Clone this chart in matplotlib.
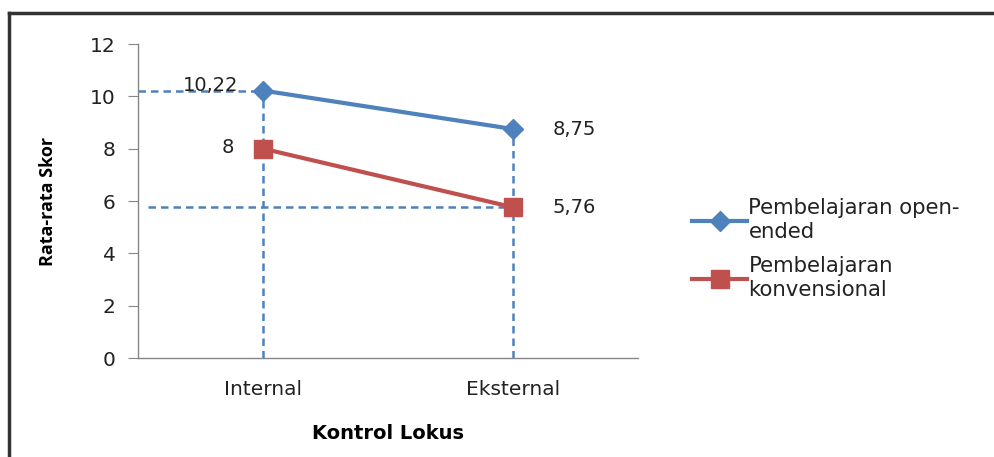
import numpy as np
import matplotlib.pyplot as plt
from matplotlib.lines import Line2D

categories = ["Internal", "Eksternal"]
open_ended = [10.22, 8.75]
konvensional = [8.0, 5.76]
open_labels = ["10,22", "8,75"]
konv_labels = ["8", "5,76"]
series_names = ["Pembelajaran open-\nended", "Pembelajaran\nkonvensional"]

BLUE = "#4F81BD"
RED = "#C0504D"
GRID = "#868686"
TXT = "#222222"

plt.rcParams['font.family'] = ['DejaVu Sans']

fig = plt.figure(figsize=(9.94, 4.57), dpi=100)
ax = fig.add_axes([138 / 994, 1 - 358 / 457, 500 / 994, 314 / 457])

x = np.arange(len(categories))

# guide lines (dashed) from the points to the axes
dash = (0, (3, 2))
ax.plot([x[0], x[0]], [0, open_ended[0]], ls=dash, color=BLUE, lw=1.8, zorder=1)
ax.plot([x[1], x[1]], [0, open_ended[1]], ls=dash, color=BLUE, lw=1.8, zorder=1)
ax.plot([-0.5, x[0]], [open_ended[0], open_ended[0]], ls=dash, color=BLUE, lw=1.8, zorder=1)
ax.plot([-0.46, x[1]], [konvensional[1], konvensional[1]], ls=dash, color=BLUE, lw=1.8, zorder=1)

ax.plot(x, open_ended, color=BLUE, lw=3, marker="D", ms=10, zorder=3)
ax.plot(x, konvensional, color=RED, lw=3, marker="s", ms=13, zorder=3)

ax.annotate(open_labels[0], (x[0], open_ended[0]), xytext=(-38, 4), textcoords="offset points",
            ha="center", va="center", fontsize=14, color=TXT)
ax.annotate(konv_labels[0], (x[0], konvensional[0]), xytext=(-25, 1), textcoords="offset points",
            ha="center", va="center", fontsize=14, color=TXT)
ax.annotate(open_labels[1], (x[1], open_ended[1]), xytext=(44, 0), textcoords="offset points",
            ha="center", va="center", fontsize=14, color=TXT)
ax.annotate(konv_labels[1], (x[1], konvensional[1]), xytext=(44, 0), textcoords="offset points",
            ha="center", va="center", fontsize=14, color=TXT)

ax.set_xlim(-0.5, 1.5)
ax.set_ylim(0, 12)
ax.set_yticks(np.arange(0, 13, 2))
ax.set_xticks(x)
ax.set_xticklabels(categories)
ax.tick_params(axis="y", length=7, color=GRID, labelsize=14.5, pad=9, labelcolor=TXT)
ax.tick_params(axis="x", length=0, labelsize=14.5, pad=16, labelcolor=TXT)
for s in ["top", "right"]:
    ax.spines[s].set_visible(False)
for s in ["left", "bottom"]:
    ax.spines[s].set_color(GRID)
    ax.spines[s].set_linewidth(1)

ax.set_xlabel("Kontrol Lokus", fontsize=14, fontweight="bold", labelpad=18)
ax.set_ylabel("Rata-rata Skor", fontsize=13, fontweight="bold", labelpad=24,
              family=["Liberation Sans Narrow", "Open Sans", "DejaVu Sans"])

handles = [
    Line2D([], [], color=BLUE, lw=3, marker="D", ms=10),
    Line2D([], [], color=RED, lw=3, marker="s", ms=13),
]
fig.legend(handles, series_names, loc="center left", bbox_to_anchor=(673 / 994, 1 - 249 / 457),
           frameon=False, fontsize=15.3, handlelength=2.6, handletextpad=0.05, labelspacing=0.7,
           labelcolor=TXT)

# outer frame (left and top edges)
fig.add_artist(Line2D([9 / 994, 9 / 994], [0, 1 - 13 / 457], transform=fig.transFigure, color="#333333", lw=2.5))
fig.add_artist(Line2D([9 / 994, 1], [1 - 13 / 457, 1 - 13 / 457], transform=fig.transFigure, color="#333333", lw=2.5))

fig.savefig("out.png", dpi=100)
